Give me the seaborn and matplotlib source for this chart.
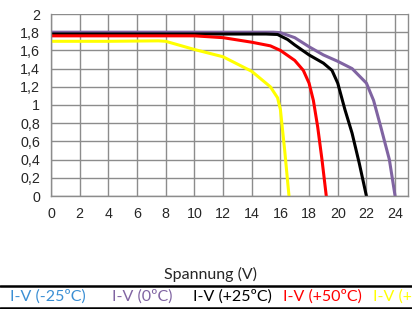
import pandas as pd
import numpy as np
import matplotlib.pyplot as plt
import seaborn as sb

# I-V curves (Spannung in V, Strom in A)
# the -25ºC curve has no visible points inside the plot area, only its legend entry
v_0 = [0, 4, 8, 12, 15.5, 16, 17, 18, 19, 20, 21, 22, 22.5, 23, 23.6, 24]
i_0 = [1.80, 1.80, 1.80, 1.80, 1.80, 1.795, 1.74, 1.64, 1.55, 1.48, 1.40, 1.24, 1.05, 0.76, 0.40, 0.0]

v_25 = [0, 4, 8, 12, 15, 15.8, 16.5, 17, 18, 19, 19.6, 20, 20.5, 21, 21.5, 22]
i_25 = [1.78, 1.78, 1.78, 1.78, 1.78, 1.775, 1.72, 1.66, 1.55, 1.46, 1.38, 1.24, 0.95, 0.69, 0.36, 0.0]

v_50 = [0, 4, 8, 10, 12, 14, 15.3, 16, 17, 17.6, 18, 18.3, 18.6, 18.9, 19.2]
i_50 = [1.76, 1.76, 1.76, 1.76, 1.74, 1.69, 1.65, 1.60, 1.49, 1.38, 1.24, 1.05, 0.76, 0.40, 0.0]

v_75 = [0, 4, 7.5, 8, 10, 12, 14, 15.3, 15.8, 16, 16.3, 16.6]
i_75 = [1.70, 1.70, 1.705, 1.70, 1.61, 1.53, 1.37, 1.20, 1.08, 0.95, 0.50, 0.0]

labels = ['I-V (-25ºC)', 'I-V (0ºC)', 'I-V (+25ºC)', 'I-V (+50ºC)', 'I-V (+75ºC)']
colors = ['#3b8fd4', '#8064a2', '#000000', '#ff0000', '#ffff00']
x_ticks = list(range(0, 25, 2))
y_ticks = [0, 0.2, 0.4, 0.6, 0.8, 1, 1.2, 1.4, 1.6, 1.8, 2]

frames = []
for lab, v, i in zip(labels[1:], [v_0, v_25, v_50, v_75], [i_0, i_25, i_50, i_75]):
    frames.append(pd.DataFrame({'Spannung': v, 'Strom': i, 'Kurve': lab}))
df = pd.concat(frames, ignore_index=True)

sb.set_style('white')
plt.rcParams['font.family'] = ['Liberation Sans', 'DejaVu Sans']

fig = plt.figure(figsize=(4.12, 3.09), dpi=100)
ax = fig.add_axes([51/412, 1-196/309, (408-51)/412, (196-14)/309])

sb.lineplot(data=df, x='Spannung', y='Strom', hue='Kurve', hue_order=labels[1:],
            palette=colors[1:], sort=False, estimator=None, linewidth=2.2,
            legend=False, ax=ax)

ax.set_xlim(0, 24.9)
ax.set_ylim(0, 2)
ax.set_xticks(x_ticks)
ax.set_yticks(y_ticks)
ax.set_xticklabels([str(t) for t in x_ticks])
ax.set_yticklabels([('%g' % t).replace('.', ',') for t in y_ticks])
ax.grid(True, color='#8c8c8c', linewidth=1)
ax.set_axisbelow(True)
for s in ax.spines.values():
    s.set_color('#8c8c8c')
    s.set_linewidth(1)
ax.spines['top'].set_visible(False)
ax.tick_params(axis='both', length=5, width=1, color='#8c8c8c', labelsize=10.3, pad=3)
ax.set_xlabel('')
ax.set_ylabel('')

fig.text(210/412, 1-274/309, 'Spannung (V)', ha='center', va='center',
         fontsize=11.5, family=['Lato', 'DejaVu Sans'])
for yl in [286, 307.5]:
    fig.add_artist(plt.Line2D([0, 1], [1-yl/309, 1-yl/309], color='black', linewidth=1.8,
                              transform=fig.transFigure))
xs = [10, 112, 193, 283, 373]
for x, lab, c in zip(xs, labels, colors):
    fig.text(x/412, 1-297/309, lab, color=c, ha='left', va='center',
             fontsize=11.5, family=['Lato', 'DejaVu Sans'])

plt.savefig('out.png', dpi=100)
